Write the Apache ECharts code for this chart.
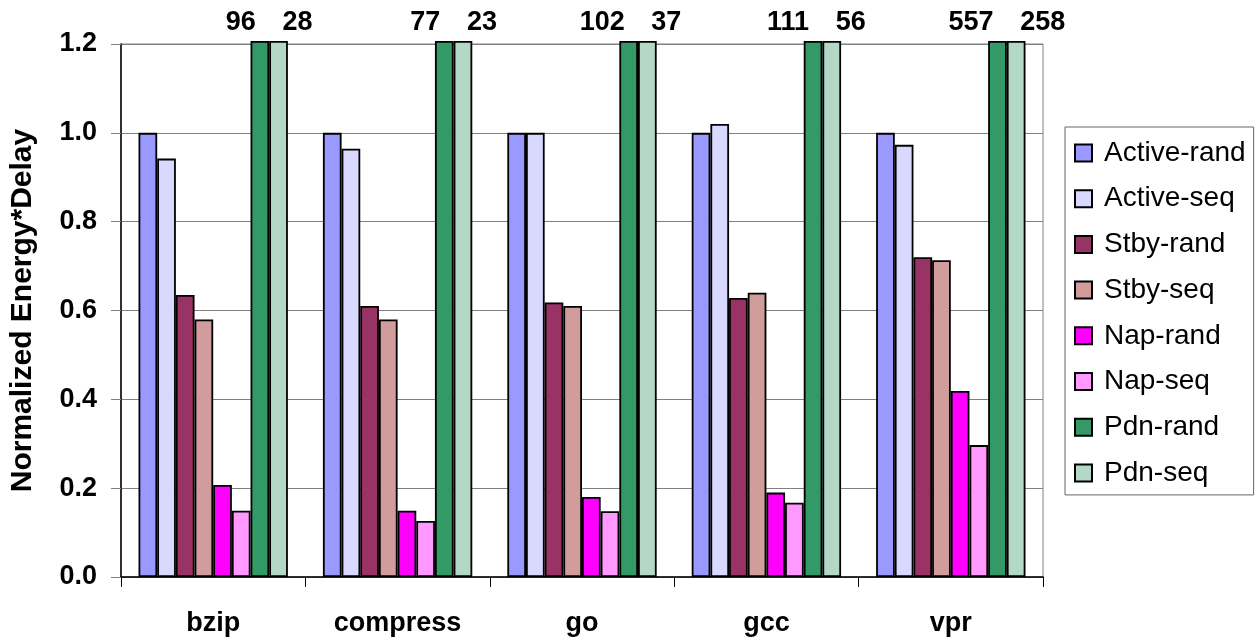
<!DOCTYPE html>
<html>
<head>
<meta charset="utf-8">
<script src="https://cdn.jsdelivr.net/npm/echarts@6/dist/echarts.min.js"></script>
<style>
  html, body { margin: 0; padding: 0; background: #fff; }
  #main { width: 1258px; height: 642px; }
</style>
</head>
<body>
<div id="main"></div>
<script>
// benchmarks
var categories = ["bzip", "compress", "go", "gcc", "vpr"];
var yTicks = [0.0, 0.2, 0.4, 0.6, 0.8, 1.0, 1.2];

var activeRand = [1.0, 1.0, 1.0, 1.0, 1.0];
var activeSeq = [0.942, 0.964, 1.0, 1.02, 0.973];
var stbyRand = [0.635, 0.61, 0.618, 0.628, 0.72];
var stbySeq = [0.58, 0.58, 0.61, 0.64, 0.713];
var napRand = [0.207, 0.149, 0.18, 0.19, 0.419];
var napSeq = [0.149, 0.126, 0.148, 0.167, 0.297];
var pdnRand = [96, 77, 102, 111, 557];
var pdnSeq = [28, 23, 37, 56, 258];

var yMax = 1.2;
var cap = 1.207; // off-scale bars stick a bit above the plot, like the original

var font = "'Liberation Sans', Arial, sans-serif";

function bar(name, color, values, labelSide) {
  var s = {
    name: name,
    type: "bar",
    clip: false,
    itemStyle: { color: color, borderColor: "#000", borderWidth: 1.8 },
    data: values.map(function (v) { return Math.min(v, cap); })
  };
  if (labelSide) {
    s.label = {
      show: true,
      position: "top",
      distance: 5,
      align: labelSide === "left" ? "right" : "left",
      offset: labelSide === "left" ? [-4, 0] : [4, 0],
      fontFamily: font,
      fontWeight: "bold",
      fontSize: 27,
      color: "#000",
      formatter: function (p) { return String(values[p.dataIndex]); }
    };
  }
  return s;
}

var chart = echarts.init(document.getElementById("main"));
chart.setOption({
  animation: false,
  backgroundColor: "#fff",
  grid: {
    left: 121, right: 215, top: 44, bottom: 65,
    show: true, borderColor: "#808080", borderWidth: 1
  },
  legend: {
    orient: "vertical",
    left: 1065, top: 127,
    padding: [12, 8, 8, 9],
    itemGap: 17.7,
    itemWidth: 17, itemHeight: 17,
    borderColor: "#666", borderWidth: 1,
    icon: "rect",
    textStyle: { fontFamily: font, fontSize: 28, color: "#000", padding: [0, 0, 0, 7] },
    data: ["Active-rand", "Active-seq", "Stby-rand", "Stby-seq", "Nap-rand", "Nap-seq", "Pdn-rand", "Pdn-seq"]
  },
  xAxis: {
    type: "category",
    data: categories,
    axisLine: { lineStyle: { color: "#000", width: 1.5 } },
    axisTick: { show: true, length: 10, lineStyle: { color: "#000" } },
    axisLabel: { margin: 33, fontFamily: font, fontWeight: "bold", fontSize: 27, color: "#000" }
  },
  yAxis: {
    type: "value",
    min: yTicks[0], max: yMax, interval: 0.2,
    name: "Normalized Energy*Delay",
    nameLocation: "middle",
    nameGap: 83,
    nameTextStyle: { fontFamily: font, fontWeight: "bold", fontSize: 30, color: "#000" },
    axisLine: { show: true, lineStyle: { color: "#000", width: 1.5 } },
    axisTick: { show: true, length: 10, lineStyle: { color: "#808080" } },
    splitLine: { lineStyle: { color: "#808080", width: 1 } },
    axisLabel: {
      margin: 24, fontFamily: font, fontWeight: "bold", fontSize: 27, color: "#000",
      formatter: function (v) { return v.toFixed(1); }
    }
  },
  series: [
    Object.assign(bar("Active-rand", "#9999FF", activeRand), { barGap: "0%", barCategoryGap: "19%" }),
    bar("Active-seq", "#D9D9FF", activeSeq),
    bar("Stby-rand", "#993366", stbyRand),
    bar("Stby-seq", "#D09C9C", stbySeq),
    bar("Nap-rand", "#FF00FF", napRand),
    bar("Nap-seq", "#FF99FF", napSeq),
    bar("Pdn-rand", "#339966", pdnRand, "left"),
    bar("Pdn-seq", "#B3D9C6", pdnSeq, "right")
  ]
});
</script>
</body>
</html>
